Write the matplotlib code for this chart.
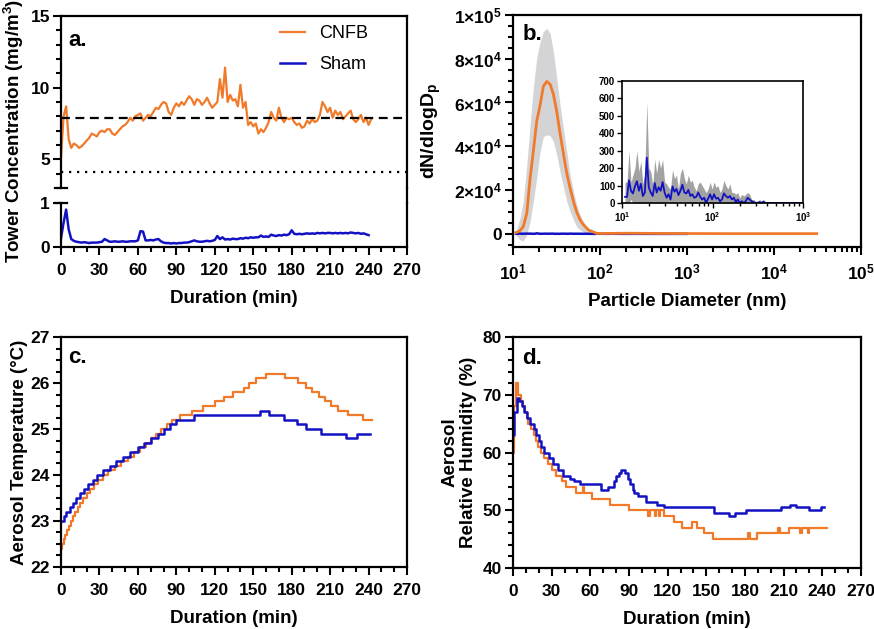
import numpy as np
import matplotlib
matplotlib.use('Agg')
import matplotlib.pyplot as plt
import matplotlib.ticker as ticker
from matplotlib.lines import Line2D

plt.rcParams['font.family'] = ['Liberation Sans', 'DejaVu Sans']
plt.rcParams['font.weight'] = 'bold'
plt.rcParams['axes.labelweight'] = 'bold'
plt.rcParams['mathtext.fontset'] = 'custom'
plt.rcParams['mathtext.rm'] = 'Liberation Sans:bold'
plt.rcParams['mathtext.it'] = 'Liberation Sans:bold'
plt.rcParams['mathtext.bf'] = 'Liberation Sans:bold'
plt.rcParams['mathtext.default'] = 'rm'

ORANGE = '#F07A2A'
BLUE = '#1212C2'

# ---- panel a: tower concentration, sampled every 2 min ----
a_cnfb = [5.1, 8.0, 8.7, 6.4, 5.8, 6.1, 6.0, 5.8, 5.9, 6.1, 6.3, 6.5, 6.8, 6.7, 6.6, 6.9,
          7.0, 6.9, 7.1, 7.1, 6.8, 6.7, 6.9, 7.1, 7.3, 7.4, 7.6, 7.9, 7.7, 8.0, 8.1, 8.2,
          7.7, 7.9, 8.1, 8.0, 8.3, 8.6, 8.5, 8.8, 9.0, 8.9, 8.3, 8.1, 8.6, 8.9, 8.7, 9.0,
          8.8, 9.1, 9.4, 9.2, 8.8, 9.2, 9.1, 8.8, 9.0, 9.3, 8.9, 8.6, 8.8, 9.0, 10.6, 9.3,
          11.4, 9.0, 9.5, 9.1, 9.2, 8.7, 10.2, 8.6, 9.0, 7.4, 7.6, 7.3, 7.5, 6.8, 7.1, 6.9,
          7.2, 7.6, 8.3, 7.9, 7.7, 8.6, 7.9, 7.6, 7.9, 7.8, 7.9, 7.6, 7.4, 7.5, 7.2, 7.3,
          7.7, 7.5, 7.8, 7.6, 7.7, 8.1, 9.0, 8.7, 8.3, 8.6, 7.9, 8.4, 8.1, 8.3, 7.8, 8.0,
          8.2, 8.4, 7.8, 7.6, 7.8, 8.1, 7.6, 7.9, 7.4, 7.8]
a_sham = [0.20, 0.55, 0.85, 0.40, 0.18, 0.14, 0.12, 0.11, 0.10, 0.11, 0.10, 0.09, 0.10, 0.10,
          0.10, 0.11, 0.12, 0.18, 0.15, 0.12, 0.12, 0.13, 0.12, 0.12, 0.13, 0.12, 0.12, 0.13,
          0.13, 0.13, 0.15, 0.36, 0.35, 0.15, 0.15, 0.16, 0.15, 0.17, 0.18, 0.13, 0.10, 0.09,
          0.09, 0.08, 0.09, 0.08, 0.09, 0.09, 0.10, 0.10, 0.11, 0.13, 0.15, 0.13, 0.12, 0.12,
          0.13, 0.14, 0.13, 0.14, 0.16, 0.25, 0.18, 0.22, 0.17, 0.18, 0.17, 0.19, 0.18, 0.18,
          0.20, 0.19, 0.21, 0.20, 0.22, 0.21, 0.22, 0.22, 0.26, 0.23, 0.24, 0.23, 0.28, 0.26,
          0.25, 0.27, 0.26, 0.28, 0.27, 0.29, 0.38, 0.30, 0.29, 0.30, 0.29, 0.30, 0.31, 0.30,
          0.31, 0.30, 0.32, 0.31, 0.32, 0.31, 0.32, 0.32, 0.31, 0.32, 0.31, 0.32, 0.31, 0.32,
          0.31, 0.33, 0.32, 0.31, 0.32, 0.30, 0.31, 0.29, 0.27]
a_t_cnfb = np.arange(len(a_cnfb)) * 2
a_t_sham = np.arange(len(a_sham)) * 2
target_conc = 7.9
low_conc = 4.1

# ---- panel b: size distribution ----
b_d = [10.8, 12.0, 13.1, 14.4, 15.7, 17.1, 18.7, 20.5, 22.3, 24.4, 26.7, 29.1, 31.8, 34.7,
       37.9, 41.5, 45.3, 49.5, 54.0, 59.0, 64.5, 73.6, 91.8, 120, 200, 500, 1000, 3000,
       10000, 31000]
b_cnfb = [600, 1400, 3300, 9400, 25400, 37600, 51300, 58900, 67300, 69600, 68300, 63800,
          55900, 46000, 36800, 27700, 20900, 14800, 9900, 6400, 4100, 1800, 200, 200, 300,
          200, 150, 100, 100, 100]
b_cnfb_hi = [1000, 7000, 14800, 31500, 49800, 66500, 80200, 87800, 92400, 93900, 91600,
             83300, 71100, 58900, 48200, 37600, 26900, 19300, 13200, 8700, 5600, 2600, 600,
             500, 600, 400, 300, 300, 300, 300]
b_cnfb_lo = [-500, -2700, -3200, -500, 5600, 14800, 25400, 37600, 44400, 45200, 44900, 42200,
             36100, 28500, 21600, 14800, 10200, 6400, 3300, 1800, 800, 200, 0, -100, 0, 0,
             -50, -100, -100, -100]

b_sham = [35, 35, 130, 70, 55, 95, 125, 70, 110, 40, 60, 260, 90, 60, 40, 115, 60, 90, 70,
          120, 60, 30, 50, 20, 95, 65, 80, 45, 70, 105, 60, 55, 75, 40, 50, 30, 35, 60, 35,
          20, 30, 0, 25, 50, 20, 50, 25, 30, 10, 20, 55, 40, 30, 40, 20, 30, 5, 20, 0, 10,
          0, 10, 30, 20, 10, 5, 0, 0, 5, 0, 8, 0] + [0] * 19
b_sham_hi = [120, 120, 300, 120, 160, 200, 300, 180, 240, 110, 170, 580, 200, 180, 100, 250,
             170, 250, 200, 250, 120, 110, 90, 80, 190, 140, 160, 80, 170, 200, 140, 110, 160,
             120, 130, 90, 70, 110, 120, 100, 80, 60, 80, 120, 80, 120, 90, 100, 60, 80, 130,
             100, 80, 110, 60, 60, 50, 60, 30, 50, 40, 50, 60, 50, 20, 20, 10, 10, 20, 10,
             20, 0] + [0] * 19
b_d_sham = np.geomspace(10.8, 1000, len(b_sham))

# ---- panel c: temperature steps (time, value) ----
c_cnfb_t = [0, 1, 2, 3, 5, 6, 8, 9, 11, 13, 15, 17, 20, 23, 26, 29, 33, 37, 42, 47, 52, 57,
            62, 66, 70, 74, 78, 83, 87, 93, 102, 111, 120, 127, 134, 143, 147, 152, 160, 175,
            185, 191, 196, 201, 206, 211, 216, 224, 236, 243]
c_cnfb_v = [22.4, 22.5, 22.6, 22.7, 22.8, 22.9, 23.0, 23.1, 23.2, 23.3, 23.4, 23.5, 23.6, 23.7,
            23.8, 23.9, 24.0, 24.1, 24.2, 24.3, 24.4, 24.5, 24.6, 24.7, 24.8, 24.9, 25.0, 25.1,
            25.2, 25.3, 25.4, 25.5, 25.6, 25.7, 25.8, 25.9, 26.0, 26.1, 26.2, 26.1, 26.0, 25.9,
            25.8, 25.7, 25.6, 25.5, 25.4, 25.3, 25.2, 25.2]
c_sham_t = [0, 2, 4, 7, 9, 12, 15, 18, 21, 25, 28, 33, 38, 43, 48, 54, 60, 65, 70, 76, 80, 85,
            90, 104, 155, 162, 174, 184, 191, 203, 222, 231, 241]
c_sham_v = [23.0, 23.1, 23.2, 23.3, 23.4, 23.5, 23.6, 23.7, 23.8, 23.9, 24.0, 24.1, 24.2, 24.3,
            24.4, 24.5, 24.6, 24.7, 24.8, 24.9, 25.0, 25.1, 25.2, 25.3, 25.4, 25.3, 25.2, 25.1,
            25.0, 24.9, 24.8, 24.9, 24.9]

# ---- panel d: relative humidity steps (time, value) ----
d_cnfb_t = [0, 1, 2, 4, 6, 8, 9, 11, 12, 14, 16, 18, 19, 22, 24, 27, 30, 33, 38, 41, 49, 54,
            55, 61, 75, 90, 105, 106, 110, 111, 113, 114, 117, 125, 131, 139, 143, 148, 155,
            182, 184, 189, 206, 207, 214, 223, 224, 229, 230, 244]
d_cnfb_v = [60, 68, 72, 70, 69, 68, 67, 66, 65, 64, 63, 62, 61, 60, 59, 58, 57, 56, 55, 54, 53,
            54, 53, 52, 51, 50, 49, 50, 49, 50, 49, 50, 49, 48, 47, 48, 47, 46, 45, 46, 45, 46,
            47, 46, 47, 46, 47, 46, 47, 47]
d_sham_t = [0, 1, 3, 5, 7, 8.5, 11, 13, 16, 18, 20, 22, 24, 28, 31, 35, 39, 44, 47, 52, 68, 74,
            78, 80, 82, 84, 87, 89, 91, 93, 94, 97, 103, 112, 117, 156, 168, 172, 181, 208,
            215, 220, 230, 239, 241]
d_sham_v = [63, 67, 69.5, 69, 68, 67, 66, 65, 64, 63, 62, 61, 60, 59, 58, 57, 56, 55.5, 55,
            54.5, 53.5, 54, 55, 56, 56.5, 57, 56.5, 55.5, 54.5, 53.5, 53, 52.5, 51.5, 51, 50.5,
            49.5, 49, 49.5, 50, 50.5, 51, 50.5, 50, 50.5, 50.5]


def style_axis(ax, labelsize=12.5):
    for s in ax.spines.values():
        s.set_linewidth(1.6)
    ax.tick_params(which='major', direction='out', length=6, width=1.5, labelsize=labelsize)
    ax.tick_params(which='minor', direction='out', length=3.7, width=1.5)
    ax.tick_params(axis='x', which='major', pad=5.5)
    ax.tick_params(axis='y', which='major', pad=2)


def duration_axis(ax):
    ax.set_xlim(0, 270)
    ax.xaxis.set_major_locator(ticker.MultipleLocator(30))
    ax.xaxis.set_minor_locator(ticker.MultipleLocator(10))
    ax.set_xlabel('Duration (min)', fontsize=13.5, labelpad=9)


fig = plt.figure(figsize=(8.74, 6.29), dpi=100)

# panel a (broken y axis)
L, W = 0.0698, 0.3959
ax_a = fig.add_axes([L, 0.7011, W, 0.2735])
ax_a2 = fig.add_axes([L, 0.6073, W, 0.0700])
for ax in (ax_a, ax_a2):
    style_axis(ax)
    ax.set_xlim(0, 270)
ax_a.spines['bottom'].set_visible(False)
ax_a2.spines['top'].set_visible(False)
ax_a.tick_params(axis='x', which='both', bottom=False, labelbottom=False)
ax_a.set_ylim(3, 15)
ax_a.yaxis.set_major_locator(ticker.FixedLocator([5, 10, 15]))
ax_a.yaxis.set_minor_locator(ticker.MultipleLocator(1))
ax_a2.set_ylim(0, 1)
ax_a2.yaxis.set_major_locator(ticker.FixedLocator([0, 1]))
duration_axis(ax_a2)

l1, = ax_a.plot(a_t_cnfb, a_cnfb, color=ORANGE, lw=1.6, label='CNFB')
l2, = ax_a2.plot(a_t_sham, a_sham, color=BLUE, lw=1.8, label='Sham')
ax_a.axhline(target_conc, color='black', lw=1.6, ls=(0, (4, 2.5)))
ax_a.axhline(low_conc, color='black', lw=1.6, ls=(0, (1, 2.6)))
ax_a.legend(handles=[l1, l2], loc='upper left', bbox_to_anchor=(0.585, 1.04), frameon=False,
            handlelength=1.4, handletextpad=0.8, labelspacing=0.75,
            prop={'weight': 'normal', 'size': 13})
ax_a.text(0.02, 0.86, 'a.', transform=ax_a.transAxes, fontsize=16, va='center')

# break marks and right border across the gap
for ax, yb in ((ax_a, 0.0), (ax_a2, 1.0)):
    ax.plot([-0.018, 0.018], [yb, yb], transform=ax.transAxes, color='black', lw=1.6,
            clip_on=False)
fig.add_artist(Line2D([L + W, L + W], [0.6073 + 0.0700, 0.7011], transform=fig.transFigure,
                      color='black', lw=1.6))
fig.text(0.016, 1 - 131 / 629, 'Tower Concentration (mg/m$^3$)', rotation=90,
         ha='center', va='center', fontsize=13.5)

# panel b
ax_b = fig.add_axes([0.587, 0.6073, 0.398, 0.369])
style_axis(ax_b)
ax_b.fill_between(b_d, b_cnfb_lo, b_cnfb_hi, color='#D4D4D6', lw=0)
ax_b.plot(b_d_sham, b_sham, color=BLUE, lw=1.8)
ax_b.plot(b_d, b_cnfb, color=ORANGE, lw=2.0)
ax_b.set_xscale('log')
ax_b.set_xlim(10, 1e5)
ax_b.set_ylim(-6000, 100000)
ax_b.xaxis.set_major_locator(ticker.LogLocator(base=10, numticks=10))
ax_b.xaxis.set_minor_locator(ticker.LogLocator(base=10, subs=np.arange(2, 10), numticks=20))
ax_b.xaxis.set_minor_formatter(ticker.NullFormatter())
b_yticks = [0, 20000, 40000, 60000, 80000, 100000]
b_ylabels = ['0', r'$2{\times}10^4$', r'$4{\times}10^4$', r'$6{\times}10^4$',
             r'$8{\times}10^4$', r'$1{\times}10^5$']
ax_b.yaxis.set_major_locator(ticker.FixedLocator(b_yticks))
ax_b.yaxis.set_major_formatter(ticker.FixedFormatter(b_ylabels))
ax_b.yaxis.set_minor_locator(ticker.MultipleLocator(5000))
ax_b.set_xlabel('Particle Diameter (nm)', fontsize=13.5, labelpad=7)
ax_b.text(0.026, 0.914, 'b.', transform=ax_b.transAxes, fontsize=16, va='center')
fig.text(0.494, 0.793, 'dN/dlogD$_\\mathregular{p}$', rotation=90, ha='center',
         va='center', fontsize=14)

# inset of panel b
ax_in = fig.add_axes([0.7117, 0.6773, 0.2071, 0.1939])
for s in ax_in.spines.values():
    s.set_linewidth(1.2)
ax_in.tick_params(which='major', direction='out', length=3.5, width=1.0, labelsize=7, pad=1.5)
ax_in.tick_params(which='minor', direction='out', length=2, width=1.0)
sham_hi = np.array(b_sham_hi)
sham_lo = np.clip(2 * np.array(b_sham) - sham_hi, 0, None)
ax_in.fill_between(b_d_sham, sham_lo, sham_hi, color='#A2A2A2', lw=0)
ax_in.plot(b_d_sham, b_sham, color=BLUE, lw=1.3)
ax_in.set_xscale('log')
ax_in.set_xlim(10, 1000)
ax_in.set_ylim(0, 700)
ax_in.yaxis.set_major_locator(ticker.MultipleLocator(100))
ax_in.xaxis.set_major_locator(ticker.LogLocator(base=10, numticks=5))
ax_in.xaxis.set_minor_locator(ticker.LogLocator(base=10, subs=np.arange(2, 10), numticks=10))
ax_in.xaxis.set_minor_formatter(ticker.NullFormatter())

# panel c
ax_c = fig.add_axes([L, 0.0986, W, 0.3656])
style_axis(ax_c)
ax_c.plot(c_cnfb_t, c_cnfb_v, color=ORANGE, lw=1.6, drawstyle='steps-post')
ax_c.plot(c_sham_t, c_sham_v, color=BLUE, lw=1.8, drawstyle='steps-post')
ax_c.set_ylim(22, 27)
ax_c.yaxis.set_major_locator(ticker.MultipleLocator(1))
ax_c.yaxis.set_minor_locator(ticker.MultipleLocator(0.25))
duration_axis(ax_c)
ax_c.set_ylabel('Aerosol Temperature (°C)', fontsize=13.5, labelpad=2)
ax_c.text(0.02, 0.909, 'c.', transform=ax_c.transAxes, fontsize=16, va='center')

# panel d
ax_d = fig.add_axes([0.587, 0.097, 0.398, 0.367])
style_axis(ax_d)
ax_d.plot(d_cnfb_t, d_cnfb_v, color=ORANGE, lw=1.6, drawstyle='steps-post')
ax_d.plot(d_sham_t, d_sham_v, color=BLUE, lw=1.8, drawstyle='steps-post')
ax_d.set_ylim(40, 80)
ax_d.yaxis.set_major_locator(ticker.MultipleLocator(10))
ax_d.yaxis.set_minor_locator(ticker.MultipleLocator(2))
duration_axis(ax_d)
ax_d.set_ylabel('Aerosol\nRelative Humidity (%)', fontsize=13.5, labelpad=4,
                linespacing=1.1)
ax_d.text(0.026, 0.909, 'd.', transform=ax_d.transAxes, fontsize=16, va='center')

fig.savefig('out.png', dpi=100, facecolor='white')
